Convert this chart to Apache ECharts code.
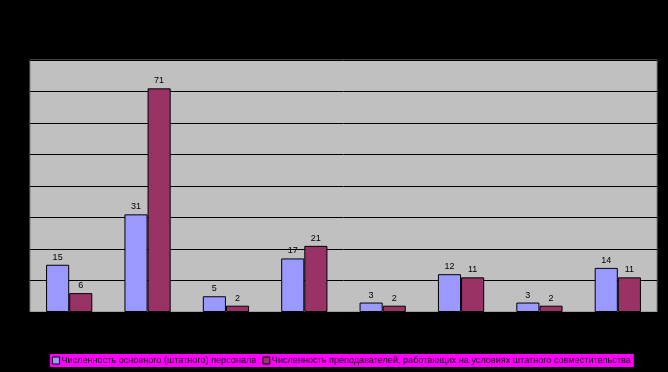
<!DOCTYPE html>
<html><head><meta charset="utf-8">
<script src="https://cdn.jsdelivr.net/npm/echarts@6/dist/echarts.min.js"></script>
<style>html,body{margin:0;padding:0;background:#000}#c{width:668px;height:372px}</style>
</head><body><div id="c"></div>
<script>
const categories = ['1','2','3','4','5','6','7','8'];
const seriesNames = ['Численность основного (штатного) персонала','Численность преподавателей, работающих на условиях штатного совместительства'];
const staffValues = [15, 31, 5, 17, 3, 12, 3, 14];
const partTimeValues = [6, 71, 2, 21, 2, 11, 2, 11];
const yTicks = {min: 0, max: 80, interval: 10};

const chart = echarts.init(document.getElementById('c'), null, {renderer: 'canvas'});
const label = {show: true, position: 'top', distance: 3, color: '#000', fontSize: 9, fontFamily: 'Liberation Sans, Arial, sans-serif'};
chart.setOption({
  backgroundColor: '#000',
  animation: false,
  grid: {left: 30, right: 11, top: 60, bottom: 60, show: true, backgroundColor: '#C0C0C0', borderColor: '#808080', borderWidth: 1},
  legend: {
    bottom: 5, left: 50,
    backgroundColor: '#FF00FF',
    padding: [2, 3, 2, 2],
    itemGap: 6,
    itemWidth: 7, itemHeight: 7,
    icon: 'rect',
    itemStyle: {borderColor: '#000', borderWidth: 1},
    textStyle: {color: '#000', fontSize: 9.1, fontFamily: 'Liberation Sans, Arial, sans-serif', padding: [0, 0, 0, -3]},
    data: seriesNames
  },
  xAxis: {
    type: 'category', data: categories,
    axisLine: {show: true, lineStyle: {color: '#000', width: 1}},
    axisTick: {show: false}, axisLabel: {show: false}
  },
  yAxis: {
    type: 'value', min: yTicks.min, max: yTicks.max, interval: yTicks.interval,
    axisLine: {show: false}, axisTick: {show: false}, axisLabel: {show: false},
    splitLine: {show: true, lineStyle: {color: '#000', width: 1}}
  },
  series: [
    {name: seriesNames[0], type: 'bar', data: staffValues, barGap: '0%', barCategoryGap: '41%',
     itemStyle: {color: '#9999FF', borderColor: '#000', borderWidth: 1}, label: label},
    {name: seriesNames[1], type: 'bar', data: partTimeValues,
     itemStyle: {color: '#993366', borderColor: '#000', borderWidth: 1}, label: label}
  ]
});
</script></body></html>
